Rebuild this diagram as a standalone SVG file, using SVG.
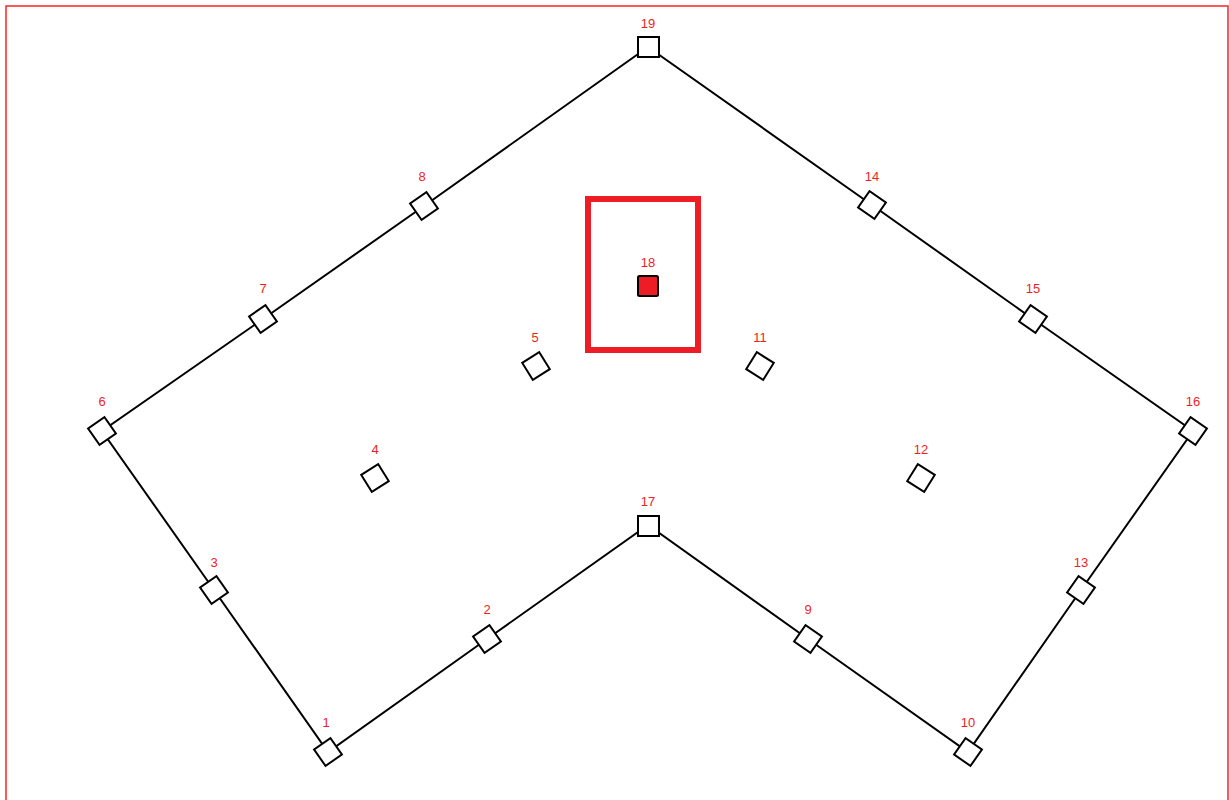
<svg xmlns="http://www.w3.org/2000/svg" width="1229" height="800" viewBox="0 0 1229 800">
<style>
.lbl{font-family:"Liberation Sans",Arial,sans-serif;font-size:13px;fill:#f01e23;text-anchor:middle}
.sq{fill:#fff;stroke:#000;stroke-width:2}
.edge{fill:none;stroke:#000;stroke-width:2}
</style>
<defs>
<rect id="s" class="sq" x="-10" y="-10" width="20" height="20"/>
<rect id="b" class="sq" x="-10" y="-10" width="21" height="20"/>
</defs>
<rect x="6" y="6" width="1222" height="810" fill="#fff" stroke="#f22" stroke-width="1.5"/>
<g id="connectors">
<polyline class="edge" points="648,47 424,206 263,319 102,431 214,590 328,752 487,639 648,525 808,639 968,752 1081,590 1193,431 1033,319 872,205 648,47"/>
</g>
<rect id="frame18" x="588" y="199" width="110" height="151" fill="none" stroke="#ee1c25" stroke-width="6"/>
<g id="n19"><use href="#b" x="648" y="47"/><text class="lbl" x="648" y="28">19</text></g>
<g id="n8"><use href="#s" transform="translate(424,206) rotate(-35)"/><text class="lbl" x="422" y="181">8</text></g>
<g id="n7"><use href="#s" transform="translate(263,319) rotate(-35)"/><text class="lbl" x="263" y="293">7</text></g>
<g id="n6"><use href="#s" transform="translate(102,431) rotate(-35)"/><text class="lbl" x="102" y="406">6</text></g>
<g id="n3"><use href="#s" transform="translate(214,590) rotate(-35)"/><text class="lbl" x="214" y="567">3</text></g>
<g id="n1"><use href="#s" transform="translate(328,752) rotate(-35)"/><text class="lbl" x="326" y="727">1</text></g>
<g id="n2"><use href="#s" transform="translate(487,639) rotate(-35)"/><text class="lbl" x="487" y="614">2</text></g>
<g id="n17"><use href="#b" x="648" y="526"/><text class="lbl" x="648" y="506">17</text></g>
<g id="n9"><use href="#s" transform="translate(808,639) rotate(35)"/><text class="lbl" x="808" y="614">9</text></g>
<g id="n10"><use href="#s" transform="translate(968,752) rotate(35)"/><text class="lbl" x="968" y="727">10</text></g>
<g id="n13"><use href="#s" transform="translate(1081,590) rotate(35)"/><text class="lbl" x="1081" y="567">13</text></g>
<g id="n16"><use href="#s" transform="translate(1193,431) rotate(35)"/><text class="lbl" x="1193" y="406">16</text></g>
<g id="n15"><use href="#s" transform="translate(1033,319) rotate(35)"/><text class="lbl" x="1033" y="293">15</text></g>
<g id="n14"><use href="#s" transform="translate(872,205) rotate(35)"/><text class="lbl" x="872" y="181">14</text></g>
<g id="n18"><rect x="638" y="276" width="20" height="20" rx="1.5" fill="#ee1c25" stroke="#000" stroke-width="2"/><text class="lbl" x="648" y="267">18</text></g>
<g id="n5"><use href="#s" transform="translate(536,366) rotate(-32)"/><text class="lbl" x="535" y="342">5</text></g>
<g id="n11"><use href="#s" transform="translate(760,366) rotate(32)"/><text class="lbl" x="760" y="342">11</text></g>
<g id="n4"><use href="#s" transform="translate(375,478) rotate(-32)"/><text class="lbl" x="375" y="454">4</text></g>
<g id="n12"><use href="#s" transform="translate(921,478) rotate(32)"/><text class="lbl" x="921" y="454">12</text></g>
</svg>
